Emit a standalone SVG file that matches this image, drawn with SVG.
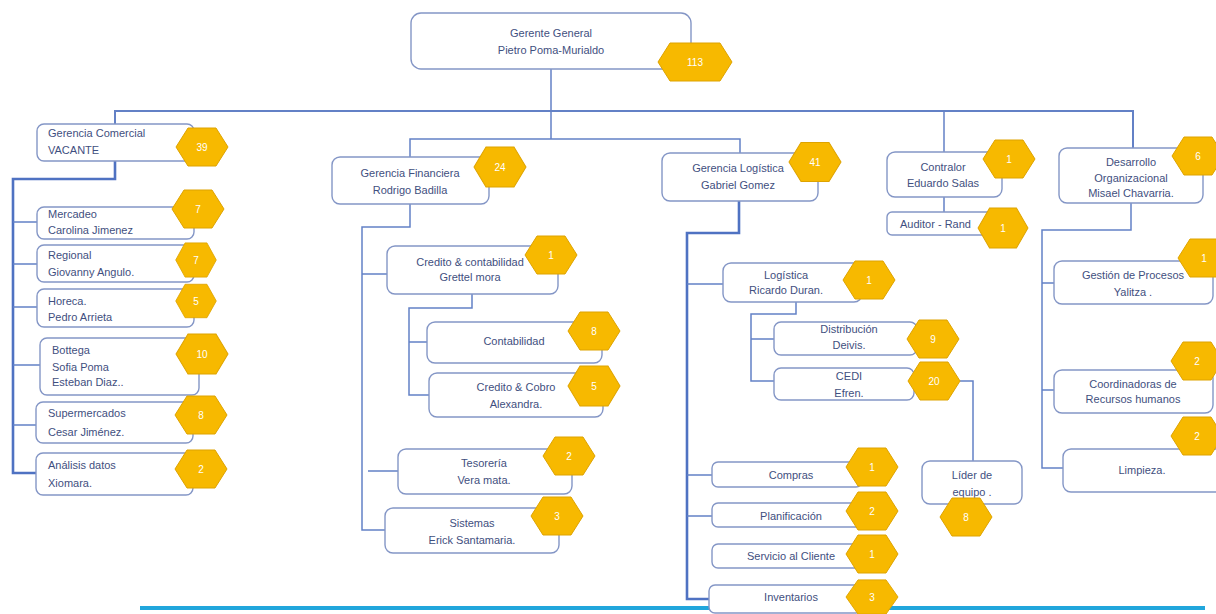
<svg xmlns="http://www.w3.org/2000/svg" xmlns:xlink="http://www.w3.org/1999/xlink" width="1216" height="614" viewBox="0 0 1216 614">
<style>
.bx{fill:#fff;stroke:#8496c6;stroke-width:1.4}
.t{font-family:"Liberation Sans",Arial,sans-serif;font-size:11px;fill:#3f4f80}
.c{text-anchor:middle}
.hx{fill:#f7b900;stroke:#dea300;stroke-width:1}
.ht{font-family:"Liberation Sans",Arial,sans-serif;font-size:10px;fill:#fff;text-anchor:middle}
.ln{fill:none;stroke:#6381c6;stroke-width:1.5}
.tk{fill:none;stroke:#4f72c2;stroke-width:2.6}
</style>
<defs>
<polygon id="hx" class="hx" points="-26,0 -14,-19 14,-19 26,0 14,19 -14,19"/>
</defs>
<rect width="1216" height="614" fill="#fff"/>
<g id="connectors">
<path class="ln" d="M551 69V139"/>
<path class="ln" d="M115 124V111H1133V148" style="stroke-width:2"/>
<path class="ln" d="M944 111V152"/>
<path class="ln" d="M410 157V139H740V153"/>
<path class="tk" d="M115 161V179H13V473H36"/>
<path class="ln" d="M13 222H37M13 264H37M13 307H37M13 365H40M13 425H36"/>
<path class="ln" d="M410 204V227H362V530H385M362 274H387M368 471H398"/>
<path class="ln" d="M472 294V308H409V395H429M409 342H427"/>
<path class="tk" d="M739 201V233H687V599H709"/>
<path class="ln" d="M687 284H723M687 475H712M687 516H712"/>
<path class="ln" d="M796 302V314H751V381H774M751 339H774"/>
<path class="ln" d="M960 381H973V461"/>
<path class="ln" d="M944 197V212"/>
<path class="ln" d="M1131 203V230H1042V468H1063M1042 283H1054M1042 390H1054"/>
</g>
<line x1="140" y1="608" x2="1205" y2="608" stroke="#21a6dc" stroke-width="4"/>
<g id="gerente">
<rect class="bx" x="411" y="13" width="280" height="56" rx="10"/>
<text class="t c" x="551" y="37">Gerente General</text>
<text class="t c" x="551" y="54">Pietro Poma-Murialdo</text>
<polygon class="hx" points="658,62 670,43 720,43 732,62 720,81 670,81"/>
<text class="ht" x="695" y="66">113</text>
</g>
<g id="comercial">
<rect class="bx" x="37" y="124" width="157" height="37" rx="7"/>
<text class="t" x="48" y="137">Gerencia Comercial</text>
<text class="t" x="48" y="154">VACANTE</text>
<use href="#hx" transform="translate(202 147)"/>
<text class="ht" x="202" y="151">39</text>
</g>
<g id="mercadeo">
<rect class="bx" x="37" y="207" width="157" height="32" rx="7"/>
<text class="t" x="48" y="218">Mercadeo</text>
<text class="t" x="48" y="234">Carolina Jimenez</text>
<use href="#hx" transform="translate(198 209)"/>
<text class="ht" x="198" y="213">7</text>
</g>
<g id="regional">
<rect class="bx" x="37" y="245" width="157" height="37" rx="7"/>
<text class="t" x="48" y="259">Regional</text>
<text class="t" x="48" y="276">Giovanny Angulo.</text>
<use href="#hx" transform="translate(196 260) scale(0.78 0.9)"/>
<text class="ht" x="196" y="264">7</text>
</g>
<g id="horeca">
<rect class="bx" x="37" y="289" width="157" height="38" rx="7"/>
<text class="t" x="48" y="305">Horeca.</text>
<text class="t" x="48" y="321">Pedro Arrieta</text>
<use href="#hx" transform="translate(196 301) scale(0.78 0.88)"/>
<text class="ht" x="196" y="305">5</text>
</g>
<g id="bottega">
<rect class="bx" x="40" y="338" width="159" height="57" rx="7"/>
<text class="t" x="52" y="354">Bottega</text>
<text class="t" x="52" y="371">Sofia Poma</text>
<text class="t" x="52" y="386">Esteban Diaz..</text>
<use href="#hx" transform="translate(202 354) scale(1 1.05)"/>
<text class="ht" x="202" y="358">10</text>
</g>
<g id="supermercados">
<rect class="bx" x="36" y="402" width="157" height="41" rx="7"/>
<text class="t" x="48" y="417">Supermercados</text>
<text class="t" x="48" y="436">Cesar Jiménez.</text>
<use href="#hx" transform="translate(201 415)"/>
<text class="ht" x="201" y="419">8</text>
</g>
<g id="analisis">
<rect class="bx" x="36" y="453" width="157" height="42" rx="7"/>
<text class="t" x="48" y="469">Análisis datos</text>
<text class="t" x="48" y="487">Xiomara.</text>
<use href="#hx" transform="translate(201 469)"/>
<text class="ht" x="201" y="473">2</text>
</g>
<g id="financiera">
<rect class="bx" x="332" y="157" width="157" height="47" rx="8"/>
<text class="t c" x="410" y="177">Gerencia Financiera</text>
<text class="t c" x="410" y="194">Rodrigo Badilla</text>
<use href="#hx" transform="translate(500 167) scale(1 1.05)"/>
<text class="ht" x="500" y="171">24</text>
</g>
<g id="credito_contabilidad">
<rect class="bx" x="387" y="246" width="171" height="48" rx="8"/>
<text class="t c" x="470" y="266">Credito &amp; contabilidad</text>
<text class="t c" x="470" y="281">Grettel mora</text>
<use href="#hx" transform="translate(551 255)"/>
<text class="ht" x="551" y="259">1</text>
</g>
<g id="contabilidad">
<rect class="bx" x="427" y="322" width="175" height="41" rx="8"/>
<text class="t c" x="514" y="345">Contabilidad</text>
<use href="#hx" transform="translate(594 331)"/>
<text class="ht" x="594" y="335">8</text>
</g>
<g id="credito_cobro">
<rect class="bx" x="429" y="373" width="174" height="44" rx="8"/>
<text class="t c" x="516" y="391">Credito &amp; Cobro</text>
<text class="t c" x="516" y="408">Alexandra.</text>
<use href="#hx" transform="translate(594 386) scale(1 1.05)"/>
<text class="ht" x="594" y="390">5</text>
</g>
<g id="tesoreria">
<rect class="bx" x="398" y="449" width="174" height="45" rx="8"/>
<text class="t c" x="484" y="467">Tesorería</text>
<text class="t c" x="484" y="484">Vera mata.</text>
<use href="#hx" transform="translate(569 456)"/>
<text class="ht" x="569" y="460">2</text>
</g>
<g id="sistemas">
<rect class="bx" x="385" y="508" width="174" height="45" rx="8"/>
<text class="t c" x="472" y="527">Sistemas</text>
<text class="t c" x="472" y="544">Erick Santamaria.</text>
<use href="#hx" transform="translate(557 516)"/>
<text class="ht" x="557" y="520">3</text>
</g>
<g id="gerencia_logistica">
<rect class="bx" x="662" y="153" width="156" height="48" rx="8"/>
<text class="t c" x="738" y="172">Gerencia Logística</text>
<text class="t c" x="738" y="189">Gabriel Gomez</text>
<use href="#hx" transform="translate(815 162) scale(1 1.03)"/>
<text class="ht" x="815" y="166">41</text>
</g>
<g id="logistica">
<rect class="bx" x="723" y="263" width="139" height="39" rx="8"/>
<text class="t c" x="786" y="279">Logística</text>
<text class="t c" x="786" y="294">Ricardo Duran.</text>
<use href="#hx" transform="translate(869 280)"/>
<text class="ht" x="869" y="284">1</text>
</g>
<g id="distribucion">
<rect class="bx" x="774" y="322" width="143" height="33" rx="7"/>
<text class="t c" x="849" y="333">Distribución</text>
<text class="t c" x="849" y="349">Deivis.</text>
<use href="#hx" transform="translate(933 339)"/>
<text class="ht" x="933" y="343">9</text>
</g>
<g id="cedi">
<rect class="bx" x="774" y="368" width="140" height="32" rx="7"/>
<text class="t c" x="849" y="380">CEDI</text>
<text class="t c" x="849" y="397">Efren.</text>
<use href="#hx" transform="translate(934 381)"/>
<text class="ht" x="934" y="385">20</text>
</g>
<g id="lider">
<rect class="bx" x="922" y="461" width="100" height="43" rx="8"/>
<text class="t c" x="972" y="479">Líder de</text>
<text class="t c" x="972" y="496">equipo .</text>
<use href="#hx" transform="translate(966 517)"/>
<text class="ht" x="966" y="521">8</text>
</g>
<g id="compras">
<rect class="bx" x="712" y="462" width="150" height="25" rx="6"/>
<text class="t c" x="791" y="479">Compras</text>
<use href="#hx" transform="translate(872 467)"/>
<text class="ht" x="872" y="471">1</text>
</g>
<g id="planificacion">
<rect class="bx" x="712" y="503" width="150" height="24" rx="6"/>
<text class="t c" x="791" y="520">Planificación</text>
<use href="#hx" transform="translate(872 511)"/>
<text class="ht" x="872" y="515">2</text>
</g>
<g id="servicio">
<rect class="bx" x="712" y="544" width="150" height="24" rx="6"/>
<text class="t c" x="791" y="560">Servicio al Cliente</text>
<use href="#hx" transform="translate(872 554)"/>
<text class="ht" x="872" y="558">1</text>
</g>
<g id="inventarios">
<rect class="bx" x="709" y="585" width="153" height="28" rx="6"/>
<text class="t c" x="791" y="601">Inventarios</text>
<use href="#hx" transform="translate(872 597) scale(1 0.9)"/>
<text class="ht" x="872" y="601">3</text>
</g>
<g id="contralor">
<rect class="bx" x="887" y="152" width="115" height="45" rx="8"/>
<text class="t c" x="943" y="171">Contralor</text>
<text class="t c" x="943" y="187">Eduardo Salas</text>
<use href="#hx" transform="translate(1009 159)"/>
<text class="ht" x="1009" y="163">1</text>
</g>
<g id="auditor">
<rect class="bx" x="887" y="212" width="113" height="23" rx="5"/>
<text class="t" x="900" y="228">Auditor - Rand</text>
<use href="#hx" transform="translate(1003 228) scale(0.96 1.05)"/>
<text class="ht" x="1003" y="232">1</text>
</g>
<g id="desarrollo">
<rect class="bx" x="1059" y="148" width="144" height="55" rx="8"/>
<text class="t c" x="1131" y="166">Desarrollo</text>
<text class="t c" x="1131" y="182">Organizacional</text>
<text class="t c" x="1131" y="197">Misael Chavarria.</text>
<use href="#hx" transform="translate(1198 156)"/>
<text class="ht" x="1198" y="160">6</text>
</g>
<g id="gestion">
<rect class="bx" x="1054" y="261" width="159" height="43" rx="8"/>
<text class="t c" x="1133" y="279">Gestión de Procesos</text>
<text class="t c" x="1133" y="296">Yalitza .</text>
<use href="#hx" transform="translate(1204 258)"/>
<text class="ht" x="1204" y="262">1</text>
</g>
<g id="coordinadoras">
<rect class="bx" x="1054" y="370" width="159" height="43" rx="8"/>
<text class="t c" x="1133" y="388">Coordinadoras de</text>
<text class="t c" x="1133" y="403">Recursos humanos</text>
<use href="#hx" transform="translate(1197 361)"/>
<text class="ht" x="1197" y="365">2</text>
</g>
<g id="limpieza">
<rect class="bx" x="1063" y="449" width="160" height="43" rx="8"/>
<text class="t c" x="1142" y="474">Limpieza.</text>
<use href="#hx" transform="translate(1197 436)"/>
<text class="ht" x="1197" y="440">2</text>
</g>
</svg>
